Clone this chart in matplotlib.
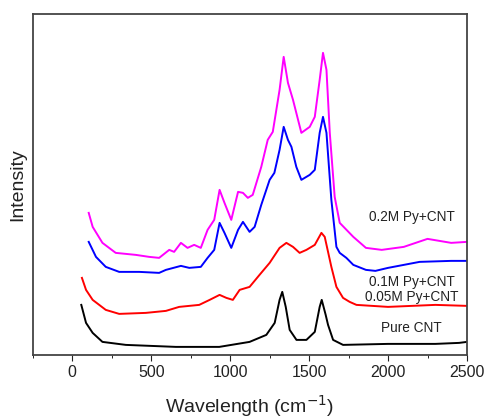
"""
    Raman spectra of CNT and Py+CNT composites
"""

import matplotlib.pyplot as plt

plt.rcParams["font.family"] = ["Liberation Sans", "DejaVu Sans"]

# Pure CNT
cnt_x = [57, 87, 129, 191, 339, 656, 931, 1123, 1229, 1282, 1313, 1330,
         1352, 1377, 1420, 1483, 1536, 1567, 1580, 1605, 1620, 1652, 1715,
         2000, 2300, 2450, 2500]
cnt_y = [50, 32, 22, 13, 10, 8, 8, 13, 20, 32, 55, 63,
         48, 25, 15, 15, 23, 48, 55, 40, 30, 15, 10,
         11, 11, 12, 13]

# 0.05M Py+CNT
py005_x = [61, 87, 129, 212, 297, 466, 593, 677, 804, 870, 933, 976, 1017,
           1060, 1123, 1186, 1250, 1313, 1356, 1398, 1440, 1483, 1536, 1578,
           1599, 1641, 1673, 1715, 1757, 1800, 2000, 2300, 2500]
py005_y = [77, 65, 55, 45, 41, 42, 44, 48, 50, 55, 60, 57, 55,
           65, 68, 80, 92, 107, 112, 108, 102, 105, 110, 122,
           118, 88, 68, 57, 53, 50, 48, 50, 49]

# 0.1M Py+CNT
py01_x = [104, 150, 212, 297, 424, 550, 593, 688, 741, 814, 857, 899, 933,
          964, 1007, 1050, 1081, 1123, 1155, 1197, 1250, 1280, 1313, 1339,
          1366, 1388, 1419, 1451, 1504, 1536, 1567, 1588, 1610, 1641, 1673,
          1694, 1736, 1780, 1860, 1920, 2000, 2200, 2400, 2500]
py01_y = [113, 98, 88, 83, 83, 82, 85, 89, 87, 88, 97, 105, 132,
          122, 107, 125, 133, 123, 128, 150, 175, 182, 205, 228,
          215, 208, 188, 175, 180, 185, 222, 238, 222, 155, 108,
          102, 97, 90, 85, 84, 87, 93, 94, 94]

# 0.2M Py+CNT
py02_x = [104, 129, 191, 275, 402, 487, 550, 614, 645, 688, 730, 772, 814,
          857, 899, 933, 964, 1007, 1050, 1081, 1112, 1143, 1197, 1238,
          1270, 1313, 1339, 1366, 1398, 1451, 1504, 1536, 1567, 1588, 1610,
          1631, 1662, 1694, 1780, 1860, 1960, 2100, 2250, 2400, 2500]
py02_y = [142, 128, 112, 102, 100, 98, 97, 105, 103, 112, 107, 110, 107,
          125, 135, 165, 152, 135, 163, 162, 157, 160, 188, 215,
          223, 265, 298, 272, 255, 222, 228, 238, 275, 302, 285,
          222, 158, 132, 118, 107, 105, 108, 116, 112, 113]

labels = ["Pure CNT", "0.05M Py+CNT", "0.1M Py+CNT", "0.2M Py+CNT"]
label_y = [27, 58, 73, 138]

fig = plt.figure(figsize=(4.9, 4.19), dpi=100)
ax = fig.add_axes([0.067, 0.153, 0.886, 0.814])

ax.plot(cnt_x, cnt_y, color="black", lw=1.4)
ax.plot(py005_x, py005_y, color="#ff0000", lw=1.4)
ax.plot(py01_x, py01_y, color="#0000ff", lw=1.4)
ax.plot(py02_x, py02_y, color="#ff00ff", lw=1.4)

for lab, ly in zip(labels, label_y):
    ax.text(2150, ly, lab, ha="center", va="center", fontsize=9.8,
            color="#222222")

ax.set_xlim(-250, 2500)
ax.set_ylim(0, 341)
ax.set_xticks([0, 500, 1000, 1500, 2000, 2500])
ax.set_xticks(range(-250, 2501, 250), minor=True)
ax.set_yticks([])
ax.tick_params(axis="x", direction="out", labelsize=11.5, length=4,
               colors="#222222")
ax.tick_params(axis="x", which="minor", direction="out", length=2.5)
for s in ax.spines.values():
    s.set_color("#444444")
    s.set_linewidth(1.3)

ax.set_xlabel(r"Wavelength (cm$^{-1}$)", fontsize=14, color="#222222",
              labelpad=9)
ax.set_ylabel("Intensity", fontsize=14, color="#222222", labelpad=5)

plt.savefig("out.png")
plt.close()
